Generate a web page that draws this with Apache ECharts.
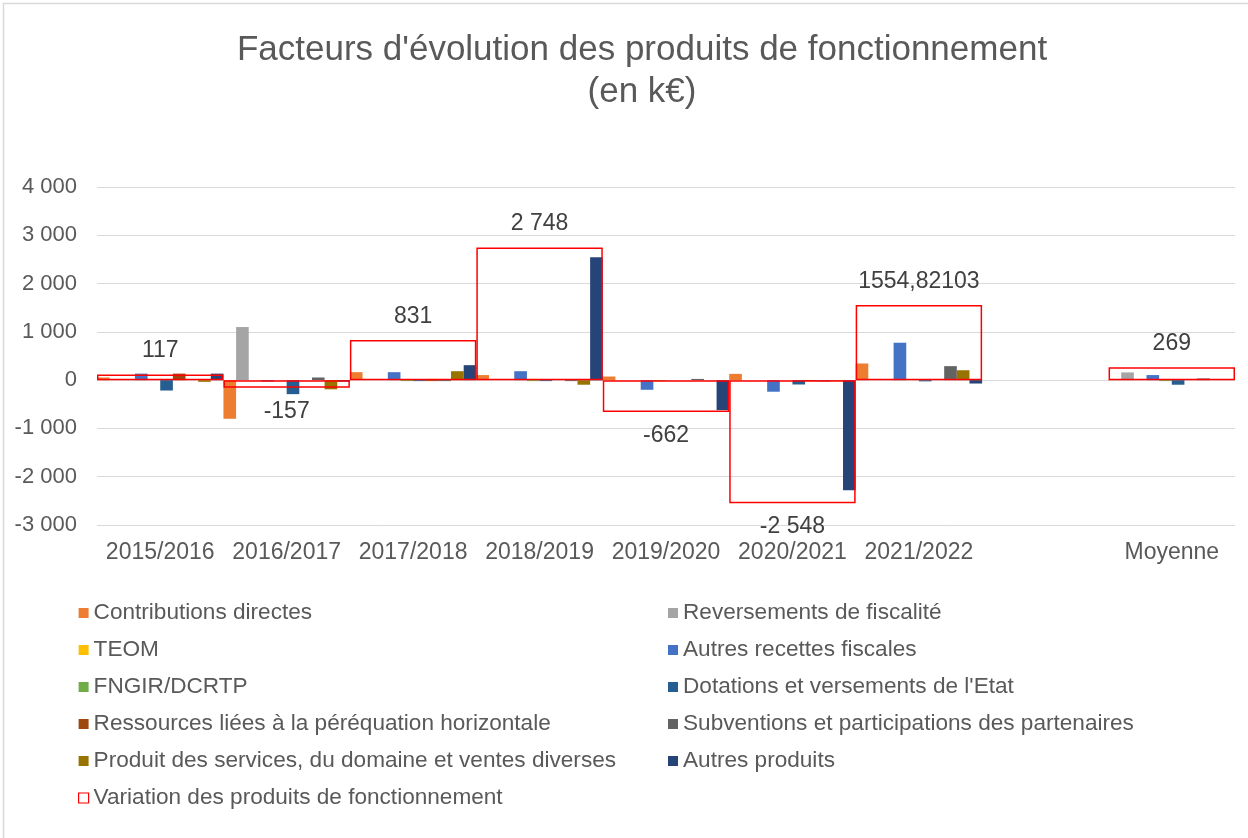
<!DOCTYPE html>
<html>
<head>
<meta charset="utf-8">
<script src="https://cdn.jsdelivr.net/npm/echarts@6/dist/echarts.min.js"></script>
<style>
html,body{margin:0;padding:0;background:#fff;}
#c{width:1248px;height:838px;}
</style>
</head>
<body>
<div id="c"></div>
<script>
const categories = ['2015/2016','2016/2017','2017/2018','2018/2019','2019/2020','2020/2021','2021/2022','','Moyenne'];
const seriesNames = [
  'Contributions directes',
  'Reversements de fiscalité',
  'TEOM',
  'Autres recettes fiscales',
  'FNGIR/DCRTP',
  "Dotations et versements de l'Etat",
  'Ressources liées à la péréquation horizontale',
  'Subventions et participations des partenaires',
  'Produit des services, du domaine et ventes diverses',
  'Autres produits'
];
const contributionsDirectes = [55, -800, 165, 105, 75, 130, 345, null, 10];
const reversementsFiscalite = [0, 1100, 0, 0, 0, 0, 0, null, 160];
const teom = [0, 0, 0, 0, 0, 0, 0, null, 0];
const autresRecettesFiscales = [135, -30, 165, 185, -200, -240, 775, null, 105];
const fngirDcrtp = [0, 0, -20, -20, -20, 0, 0, null, -20];
const dotationsEtat = [-215, -290, -20, -20, 0, -90, -25, null, -95];
const ressourcesPerequation = [135, 0, -20, 0, 0, -20, 0, null, 0];
const subventionsPartenaires = [0, 55, -20, -20, 25, -25, 290, null, 35];
const produitServices = [-35, -190, 185, -95, 0, -15, 205, null, 0];
const autresProduits = [135, -30, 310, 2545, -620, -2280, -70, null, 0];
const variationName = 'Variation des produits de fonctionnement';
const variation = [117, -157, 831, 2748, -662, -2548, 1554.82103, null, 269];
const variationLabels = ['117', '-157', '831', '2 748', '-662', '-2 548', '1554,82103', '', '269'];
const yTicks = { min: -3000, max: 4000, interval: 1000 };

const seriesValues = [contributionsDirectes, reversementsFiscalite, teom, autresRecettesFiscales, fngirDcrtp,
  dotationsEtat, ressourcesPerequation, subventionsPartenaires, produitServices, autresProduits];
const colors = ['#ED7D31','#A5A5A5','#FFC000','#4472C4','#70AD47','#255E91','#9E480E','#636363','#997300','#264478'];

const FONT = "'Liberation Sans', Arial, sans-serif";
const chart = echarts.init(document.getElementById('c'), null, {renderer:'canvas'});

const barSeries = seriesNames.map((n, i) => ({
  name: n,
  type: 'bar',
  xAxisIndex: 0,
  yAxisIndex: 0,
  data: seriesValues[i],
  itemStyle: { color: colors[i] },
  barGap: '0%',
  barCategoryGap: '0%',
  z: 2
}));

const varSeries = {
  name: variationName,
  type: 'bar',
  xAxisIndex: 1,
  yAxisIndex: 0,
  barWidth: '100%',
  z: 5,
  itemStyle: { color: 'rgba(255,255,255,0)', borderColor: '#FF0000', borderWidth: 1.5 },
  data: variation.map((v, i) => v === null ? null : ({
    value: v,
    label: { position: v >= 0 ? 'top' : 'bottom' }
  })),
  label: {
    show: true,
    distance: 12,
    color: '#404040',
    fontSize: 23,
    fontFamily: FONT,
    formatter: p => variationLabels[p.dataIndex]
  }
};

const legendText = { color: '#595959', fontSize: 22.6, fontFamily: FONT, lineHeight: 24 };
const leftNames = [seriesNames[0], seriesNames[2], seriesNames[4], seriesNames[6], seriesNames[8]];
const rightNames = [seriesNames[1], seriesNames[3], seriesNames[5], seriesNames[7], seriesNames[9]];

chart.setOption({
  animation: false,
  backgroundColor: '#fff',
  title: {
    text: "Facteurs d'évolution des produits de fonctionnement\n(en k€)",
    left: 637,
    textAlign: 'center',
    top: 24,
    textStyle: { color: '#595959', fontSize: 35, fontWeight: 'normal', fontFamily: FONT, lineHeight: 42 }
  },
  graphic: [{
    type: 'rect',
    shape: { x: 3.5, y: 3.5, width: 1400, height: 1000 },
    style: { fill: 'none', stroke: '#D9D9D9', lineWidth: 1.5 },
    silent: true
  }],
  legend: [{
    orient: 'vertical',
    left: 78, top: 601, padding: 0,
    itemWidth: 10, itemHeight: 10, itemGap: 13,
    icon: 'rect',
    textStyle: legendText,
    data: leftNames.map(n => ({ name: n })).concat([{
      name: variationName,
      icon: 'rect',
      itemStyle: { color: '#FFFFFF', borderColor: '#FF0000', borderWidth: 1.2 }
    }])
  }, {
    orient: 'vertical',
    left: 668, top: 601, padding: 0,
    itemWidth: 10, itemHeight: 10, itemGap: 13,
    icon: 'rect',
    textStyle: legendText,
    data: rightNames
  }],
  grid: { left: 97, right: 13, top: 187, bottom: 313, containLabel: false },
  xAxis: [{
    type: 'category',
    data: categories,
    axisLine: { show: false, onZero: false },
    axisTick: { show: false },
    axisLabel: { color: '#595959', fontSize: 23, fontFamily: FONT, margin: 16, interval: 0 },
    splitLine: { show: false }
  }, {
    type: 'category',
    data: categories,
    show: false
  }],
  yAxis: [{
    type: 'value',
    min: yTicks.min, max: yTicks.max, interval: yTicks.interval,
    axisLine: { show: false },
    axisTick: { show: false },
    axisLabel: {
      color: '#595959', fontSize: 22, fontFamily: FONT, margin: 20,
      formatter: v => (v < 0 ? '-' : '') + Math.abs(v).toString().replace(/\B(?=(\d{3})+(?!\d))/g, ' ')
    },
    splitLine: { lineStyle: { color: '#D9D9D9', width: 1 } }
  }],
  series: barSeries.concat([varSeries])
});
</script>
</body>
</html>
